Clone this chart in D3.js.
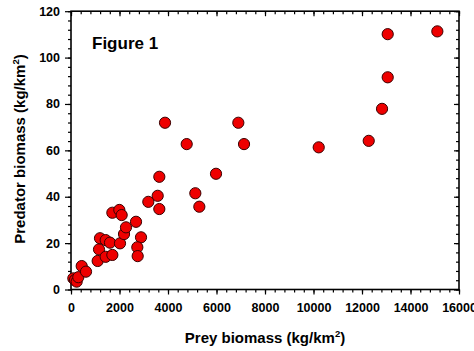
<!DOCTYPE html>
<html>
<head>
<meta charset="utf-8">
<script src="https://cdn.jsdelivr.net/npm/d3@7"></script>
<style>
  body { margin: 0; background: #fff; }
  svg { display: block; font-family: "Liberation Sans", Arial, sans-serif; }
  .axis path { display: none; }
  .axis line { stroke: #000; stroke-width: 1.2; }
  .axis text { font-size: 12.5px; font-weight: bold; fill: #000; }
</style>
</head>
<body>
<div id="chart"></div>
<script>
// prey biomass (kg/km2) and predator biomass (kg/km2)
var prey = [96, 165, 234, 302, 441, 619, 1100, 1155, 1196, 1430, 1608, 1430, 1705, 1705, 1993, 2089, 2021, 2186, 2268, 2681,
            2887, 2735, 2750, 3188, 3575, 3642, 3642, 3877, 4771, 5127, 5292, 5980, 6900, 7135, 10215, 12277, 12826, 13060, 13060, 15107]
var predator = [4.8, 4.1, 3.4, 5.3, 10.1, 7.7, 12.3, 17.3, 22.1, 21.3, 20.2, 14.1, 14.9, 33.1, 34.3, 32.1, 19.9, 23.9, 26.8, 29.2,
                22.5, 18.2, 14.4, 37.8, 40.4, 34.7, 48.6, 71.9, 62.7, 41.5, 35.7, 49.9, 71.9, 62.7, 61.3, 64.1, 77.9, 91.5, 110.1, 111.3]

var xTicks = [0, 2000, 4000, 6000, 8000, 10000, 12000, 14000, 16000]
var yTicks = [0, 20, 40, 60, 80, 100, 120]

function draw() {
    var width = 474, height = 351;
    var mLeft = 71, mRight = 459, mTop = 11.2, mBottom = 289.5;

    var svg = d3.select("#chart").append("svg")
        .attr("width", width)
        .attr("height", height);

    var x = d3.scaleLinear().domain([0, 16000]).range([mLeft, mRight]);
    var y = d3.scaleLinear().domain([0, 120]).range([mBottom, mTop]);

    var xMinor = d3.range(0, 16001, 400);
    var yMinor = d3.range(0, 121, 4);

    function addAxis(axis, tx, ty, labels) {
        var g = svg.append("g").attr("class", "axis")
            .attr("transform", "translate(" + tx + "," + ty + ")")
            .call(axis);
        if (!labels) g.selectAll("text").remove();
        return g;
    }

    // minor ticks first, majors on top
    addAxis(d3.axisBottom(x).tickValues(xMinor).tickSize(3), 0, mBottom, false);
    addAxis(d3.axisTop(x).tickValues(xMinor).tickSize(-3), 0, mTop, false);
    addAxis(d3.axisLeft(y).tickValues(yMinor).tickSize(3), mLeft, 0, false);
    addAxis(d3.axisRight(y).tickValues(yMinor).tickSize(-3), mRight, 0, false);

    addAxis(d3.axisBottom(x).tickValues(xTicks).tickSize(5).tickPadding(9).tickFormat(d3.format("d")), 0, mBottom, true);
    addAxis(d3.axisTop(x).tickValues(xTicks).tickSize(-5), 0, mTop, false);
    addAxis(d3.axisLeft(y).tickValues(yTicks).tickSize(6).tickPadding(5), mLeft, 0, true);
    addAxis(d3.axisRight(y).tickValues(yTicks).tickSize(-5), mRight, 0, false);

    // frame
    svg.append("rect")
        .attr("x", mLeft).attr("y", mTop)
        .attr("width", mRight - mLeft).attr("height", mBottom - mTop)
        .attr("fill", "none").attr("stroke", "#000").attr("stroke-width", 1.6);

    // points
    svg.append("g").selectAll("circle")
        .data(d3.range(prey.length))
        .enter().append("circle")
        .attr("cx", function(i) { return x(prey[i]); })
        .attr("cy", function(i) { return y(predator[i]); })
        .attr("r", 5.6)
        .attr("fill", "#ee0000")
        .attr("stroke", "#3a0000")
        .attr("stroke-width", 1);

    svg.append("text")
        .attr("x", 92).attr("y", 49)
        .attr("font-size", 17).attr("font-weight", "bold")
        .text("Figure 1");

    // axis titles
    var xt = svg.append("text")
        .attr("x", 265).attr("y", 343)
        .attr("text-anchor", "middle")
        .attr("font-size", 15).attr("font-weight", "bold");
    xt.append("tspan").text("Prey biomass (kg/km");
    xt.append("tspan").attr("font-size", 9.5).attr("dy", -6).text("2");
    xt.append("tspan").attr("dy", 6).text(")");

    var yt = svg.append("text")
        .attr("transform", "translate(25,149) rotate(-90)")
        .attr("text-anchor", "middle")
        .attr("font-size", 15).attr("font-weight", "bold");
    yt.append("tspan").text("Predator biomass (kg/km");
    yt.append("tspan").attr("font-size", 9.5).attr("dy", -6).text("2");
    yt.append("tspan").attr("dy", 6).text(")");
}

draw();
</script>
</body>
</html>
